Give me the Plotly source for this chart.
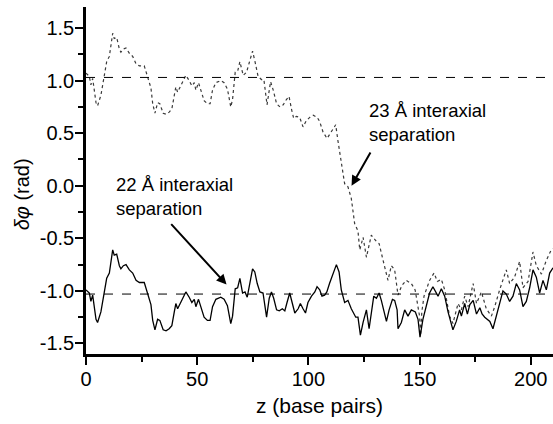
import plotly.graph_objects as go

# 22 Å interaxial separation (solid)
z22 = [0, 1.5, 2.2, 3, 4.5, 5.2, 6.7, 8.2, 9.3, 10.5, 12, 12.7, 13.8, 15, 15.7, 16.8, 18, 19.5, 21, 22.5,
       24, 26.2, 27.7, 29.2, 30, 31, 32.2, 33.2, 34.7, 36, 37.4, 38.6, 39.7, 40.4, 41.2, 42.7, 44.9, 46.4,
       47.6, 48.7, 49.4, 50.6, 51.6, 53.1, 54.6, 55.8, 56.9, 58.4, 60.6, 62.1, 63.6, 65.1, 65.9, 67.1, 68.2,
       69.2, 70.4, 71.5, 72.5, 73.7, 74.9, 75.9, 77, 78.2, 79.6, 81.2, 82.4, 83.4, 84.4, 85.7, 86.9, 88.3,
       89.4, 90.4, 91.6, 92.8, 93.9, 95.4, 96.4, 97.6, 98.7, 99.8, 101.4, 102.9, 103.9, 105.1, 106.1, 107.3,
       108.3, 109.5, 111.1, 112.6, 113.8, 114.8, 116.3, 117.8, 119.3, 121.3, 122.3, 123.4, 124.6, 126.1,
       127.3, 128.3, 129.4, 130.6, 131.8, 132.8, 133.9, 135.1, 136.3, 137.8, 138.8, 139.9, 140.3, 141.8,
       143.3, 144.8, 146.3, 148.1, 149.3, 150.2, 151.5, 153, 154.5, 156, 157.5, 158.3, 159.8, 161.3, 162.8,
       164.3, 165, 166.5, 168, 168.8, 170.3, 171.5, 172.6, 174.1, 175.6, 177.1, 178.1, 179.3, 181.6, 183,
       184.5, 186, 187.5, 189, 190.5, 192, 193.5, 195, 196.5, 198, 199.5, 201, 202.5, 204, 205.5, 207,
       208.5, 210]
phi22 = [-0.99, -1.02, -1.10, -1.04, -1.27, -1.30, -1.20, -1.02, -0.88, -0.83, -0.61, -0.66, -0.65, -0.76,
         -0.79, -0.76, -0.75, -0.80, -0.83, -0.90, -0.92, -0.92, -1.02, -1.13, -1.28, -1.37, -1.27, -1.28,
         -1.37, -1.38, -1.36, -1.33, -1.20, -1.12, -1.17, -1.10, -1.01, -1.06, -1.11, -1.08, -1.15, -1.08,
         -1.14, -1.25, -1.28, -1.28, -1.15, -1.08, -1.06, -1.08, -1.14, -1.31, -1.24, -0.98, -0.97, -0.88,
         -1.02, -1.01, -1.06, -0.93, -0.79, -0.82, -0.93, -1.01, -1.02, -1.25, -1.07, -1.01, -1.07, -1.18,
         -1.19, -1.17, -1.19, -1.11, -1.02, -1.12, -1.21, -1.17, -1.12, -1.17, -1.21, -1.11, -1.05, -1.01,
         -0.96, -0.99, -1.05, -1.04, -1.01, -0.93, -0.83, -0.75, -0.82, -0.99, -1.11, -1.09, -1.17, -1.25,
         -1.25, -1.42, -1.30, -1.18, -1.36, -1.21, -1.05, -1.07, -1.02, -1.09, -1.18, -1.29, -1.18, -1.08,
         -1.09, -1.18, -1.36, -1.30, -1.18, -1.24, -1.18, -1.20, -1.27, -1.44, -1.27, -1.13, -1.02, -0.96,
         -1.02, -1.05, -0.98, -1.05, -1.20, -1.31, -1.37, -1.29, -1.18, -1.24, -1.12, -1.22, -1.13, -1.09,
         -1.22, -1.16, -1.22, -1.25, -1.29, -1.36, -1.24, -1.10, -1.00, -1.03, -1.10, -1.05, -0.93, -0.99,
         -1.15, -1.10, -0.97, -0.80, -0.87, -1.02, -0.90, -0.99, -0.83, -0.78]

# 23 Å interaxial separation (dotted)
z23 = [0, 1.5, 2.2, 3, 4.5, 5.2, 6.7, 8.2, 9.3, 10.5, 12, 12.7, 13.8, 15, 15.7, 16.8, 18, 19.5, 21, 22.5,
       24, 26.2, 27.7, 29.2, 30, 31, 32.2, 33.2, 34.7, 36, 37.4, 38.6, 39.7, 40.4, 41.2, 42.7, 44.9, 46.4,
       47.6, 48.7, 49.4, 50.6, 51.6, 53.1, 54.6, 55.8, 56.9, 58.4, 60.6, 62.1, 63.6, 65.1, 65.9, 67.1, 68.2,
       69.2, 70.7, 72.2, 73.4, 74.9, 76, 77.4, 78.9, 80, 81.4, 83, 84.2, 85.7, 87.2, 88.7, 90.1, 91.3, 92.5,
       93.4, 94.6, 96.1, 97.6, 99.1, 100.6, 102.2, 104, 105.1, 106.6, 108.4, 109.9, 112.3, 113.2, 114.4,
       116.3, 117.8, 119.3, 120.8, 122.3, 123.1, 124.6, 126.1, 128.3, 130.6, 131.8, 133.6, 135.8, 137.3,
       138.8, 140.3, 142, 144, 146.3, 148, 150, 150.5, 151, 152, 154.5, 156.5, 158, 159.8, 161.3, 163.5,
       165, 167.3, 168.8, 170.3, 171.8, 174.1, 175.6, 177.8, 180, 182.3, 183.8, 186, 187.5, 189, 190.5,
       192.7, 195, 196.5, 198.8, 201, 202.5, 204.8, 207, 209.2, 210]
phi23 = [1.07, 1.04, 0.96, 1.02, 0.79, 0.76, 0.86, 1.04, 1.18, 1.23, 1.45, 1.40, 1.41, 1.30, 1.27, 1.30,
         1.31, 1.26, 1.23, 1.16, 1.14, 1.14, 1.04, 0.93, 0.78, 0.69, 0.79, 0.78, 0.69, 0.68, 0.70, 0.73,
         0.86, 0.94, 0.89, 0.96, 1.05, 1.00, 0.95, 0.98, 0.91, 0.98, 0.92, 0.81, 0.78, 0.78, 0.91, 0.98,
         1.00, 0.98, 0.92, 0.75, 0.82, 1.08, 1.09, 1.18, 1.05, 1.08, 1.17, 1.28, 1.18, 1.04, 1.01, 1.01,
         0.77, 0.99, 0.91, 0.78, 0.75, 0.77, 0.82, 0.85, 0.72, 0.64, 0.66, 0.65, 0.56, 0.62, 0.65, 0.67,
         0.65, 0.61, 0.51, 0.45, 0.50, 0.58, 0.44, 0.28, 0.02, -0.01, -0.12, -0.36, -0.43, -0.61, -0.49,
         -0.68, -0.47, -0.53, -0.55, -0.71, -0.90, -0.76, -0.80, -1.04, -0.95, -0.90, -0.93, -0.99, -1.24,
         -1.42, -1.20, -1.05, -0.90, -0.83, -0.91, -0.89, -0.99, -1.24, -1.31, -1.12, -1.18, -1.05, -1.15,
         -0.93, -1.12, -1.01, -1.17, -1.24, -1.15, -0.99, -0.90, -0.80, -0.93, -0.87, -0.72, -0.97, -0.91,
         -0.63, -0.76, -0.84, -0.71, -0.61, -0.60]

ref_levels = [1.03, -1.03]
x_ticks = [0, 50, 100, 150, 200]
y_ticks = [-1.5, -1.0, -0.5, 0.0, 0.5, 1.0, 1.5]
y_tick_text = ["-1.5", "-1.0", "-0.5", "0.0", "0.5", "1.0", "1.5"]

FONT = "Liberation Sans, Arial, Helvetica, sans-serif"

fig = go.Figure()
fig.add_trace(go.Scatter(x=z23, y=phi23, mode="lines",
                         line=dict(color="#3a3a3a", width=1.2, dash="dot"), showlegend=False))
fig.add_trace(go.Scatter(x=z22, y=phi22, mode="lines",
                         line=dict(color="black", width=1.3), showlegend=False))

for lv in ref_levels:
    fig.add_shape(type="line", xref="paper", x0=0, x1=1, yref="y", y0=lv, y1=lv,
                  line=dict(color="black", width=1, dash="dash"))

axis_common = dict(showline=True, linecolor="black", linewidth=2.5, ticks="outside",
                   ticklen=8, tickwidth=1.5, tickcolor="black", showgrid=False, zeroline=False,
                   tickfont=dict(family=FONT, size=20, color="black"), mirror=False,
                   ticklabelstandoff=-3)

fig.update_xaxes(range=[0, 210], tickvals=x_ticks,
                 minor=dict(dtick=25, ticks="outside", ticklen=5, tickwidth=1.5, tickcolor="black"),
                 title=dict(text="z (base pairs)", font=dict(family=FONT, size=21, color="black"),
                            standoff=10),
                 **axis_common)
fig.update_yaxes(range=[-1.6, 1.7], tickvals=y_ticks, ticktext=y_tick_text,
                 minor=dict(dtick=0.25, ticks="outside", ticklen=5, tickwidth=1.5, tickcolor="black"),
                 **axis_common)

# y axis title
fig.add_annotation(text="<i>δφ</i> (rad)", xref="paper", yref="paper", x=-0.165, y=0.46,
                   textangle=-90, showarrow=False,
                   font=dict(family=FONT, size=20, color="black"))

# Labels
fig.add_annotation(text="22 Å interaxial<br>separation", x=12.6, y=-0.1, xref="x", yref="y",
                   xanchor="left", yanchor="middle", align="left", showarrow=False,
                   font=dict(family=FONT, size=18.5, color="black"))
fig.add_annotation(text="23 Å interaxial<br>separation", x=126.3, y=0.60, xref="x", yref="y",
                   xanchor="left", yanchor="middle", align="left", showarrow=False,
                   font=dict(family=FONT, size=18.5, color="black"))

# Arrows
fig.add_annotation(x=63.2, y=-0.94, ax=37.7, ay=-0.35, xref="x", yref="y", axref="x", ayref="y",
                   text="", showarrow=True, arrowhead=2, arrowsize=1, arrowwidth=2, arrowcolor="black")
fig.add_annotation(x=119.4, y=0.0, ax=128.3, ay=0.33, xref="x", yref="y", axref="x", ayref="y",
                   text="", showarrow=True, arrowhead=2, arrowsize=1, arrowwidth=2, arrowcolor="black")

fig.update_layout(width=553, height=424, margin=dict(l=86, r=0, t=7, b=70),
                  plot_bgcolor="white", paper_bgcolor="white",
                  font=dict(family=FONT, color="black"))

fig.write_html("out.html")
